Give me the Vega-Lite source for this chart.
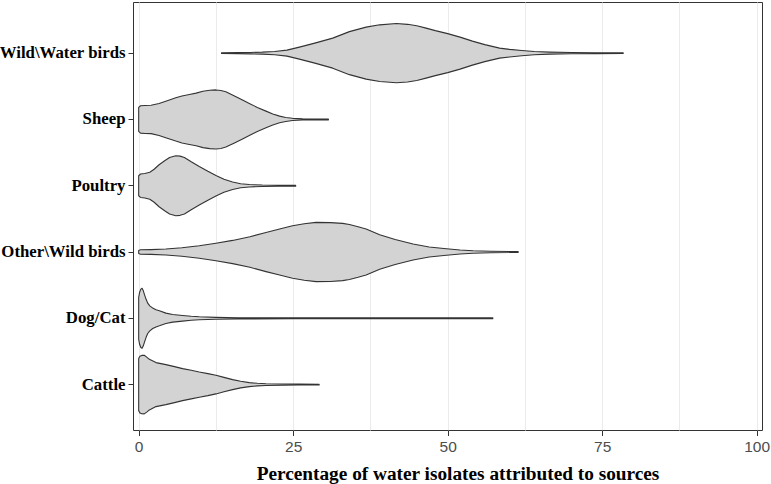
{
  "$schema": "https://vega.github.io/schema/vega-lite/v6.json",
  "width": 629,
  "height": 428,
  "autosize": "none",
  "padding": {"left": 133, "top": 2, "right": 9, "bottom": 54},
  "background": "white",
  "config": {"view": {"stroke": "#333333", "strokeWidth": 1}},
  "data": {"values": [
    {"s":"Wild\\Water birds","v":13.4,"w":0.4},{"s":"Wild\\Water birds","v":16,"w":0.5},{"s":"Wild\\Water birds","v":18,"w":0.7},{"s":"Wild\\Water birds","v":20,"w":1},{"s":"Wild\\Water birds","v":22,"w":1.6},{"s":"Wild\\Water birds","v":24,"w":3},{"s":"Wild\\Water birds","v":26,"w":6},{"s":"Wild\\Water birds","v":28.5,"w":10},{"s":"Wild\\Water birds","v":31.4,"w":15},{"s":"Wild\\Water birds","v":34.1,"w":21.5},{"s":"Wild\\Water birds","v":36.8,"w":26},{"s":"Wild\\Water birds","v":39,"w":28.3},{"s":"Wild\\Water birds","v":41.7,"w":29.6},{"s":"Wild\\Water birds","v":43.5,"w":28.8},{"s":"Wild\\Water birds","v":45,"w":27.3},{"s":"Wild\\Water birds","v":46.5,"w":25},{"s":"Wild\\Water birds","v":48,"w":22.5},{"s":"Wild\\Water birds","v":50,"w":19.5},{"s":"Wild\\Water birds","v":52,"w":16},{"s":"Wild\\Water birds","v":54,"w":12},{"s":"Wild\\Water birds","v":56,"w":8.5},{"s":"Wild\\Water birds","v":58.4,"w":5},{"s":"Wild\\Water birds","v":60,"w":3.8},{"s":"Wild\\Water birds","v":62,"w":2.6},{"s":"Wild\\Water birds","v":64,"w":1.6},{"s":"Wild\\Water birds","v":66.5,"w":1},{"s":"Wild\\Water birds","v":70,"w":0.6},{"s":"Wild\\Water birds","v":74,"w":0.45},{"s":"Wild\\Water birds","v":78.4,"w":0.4},
    {"s":"Wild\\Water birds","v":78.4,"w":-0.4},{"s":"Wild\\Water birds","v":74,"w":-0.45},{"s":"Wild\\Water birds","v":70,"w":-0.6},{"s":"Wild\\Water birds","v":66.5,"w":-1},{"s":"Wild\\Water birds","v":64,"w":-1.6},{"s":"Wild\\Water birds","v":62,"w":-2.6},{"s":"Wild\\Water birds","v":60,"w":-3.8},{"s":"Wild\\Water birds","v":58.4,"w":-5},{"s":"Wild\\Water birds","v":56,"w":-8.5},{"s":"Wild\\Water birds","v":54,"w":-12},{"s":"Wild\\Water birds","v":52,"w":-16},{"s":"Wild\\Water birds","v":50,"w":-19.5},{"s":"Wild\\Water birds","v":48,"w":-22.5},{"s":"Wild\\Water birds","v":46.5,"w":-25},{"s":"Wild\\Water birds","v":45,"w":-27.3},{"s":"Wild\\Water birds","v":43.5,"w":-28.8},{"s":"Wild\\Water birds","v":41.7,"w":-29.6},{"s":"Wild\\Water birds","v":39,"w":-28.3},{"s":"Wild\\Water birds","v":36.8,"w":-26},{"s":"Wild\\Water birds","v":34.1,"w":-21.5},{"s":"Wild\\Water birds","v":31.4,"w":-15},{"s":"Wild\\Water birds","v":28.5,"w":-10},{"s":"Wild\\Water birds","v":26,"w":-6},{"s":"Wild\\Water birds","v":24,"w":-3},{"s":"Wild\\Water birds","v":22,"w":-1.6},{"s":"Wild\\Water birds","v":20,"w":-1},{"s":"Wild\\Water birds","v":18,"w":-0.7},{"s":"Wild\\Water birds","v":16,"w":-0.5},{"s":"Wild\\Water birds","v":13.4,"w":-0.4},

    {"s":"Sheep","v":0,"w":12},{"s":"Sheep","v":0.3,"w":13.7},{"s":"Sheep","v":1,"w":14},{"s":"Sheep","v":2,"w":14.2},{"s":"Sheep","v":3.3,"w":16},{"s":"Sheep","v":4.5,"w":18.5},{"s":"Sheep","v":6,"w":21.6},{"s":"Sheep","v":7,"w":23.5},{"s":"Sheep","v":8.2,"w":25},{"s":"Sheep","v":9.3,"w":26.3},{"s":"Sheep","v":10.4,"w":28.2},{"s":"Sheep","v":11.5,"w":29.2},{"s":"Sheep","v":12.5,"w":29.5},{"s":"Sheep","v":13.3,"w":29},{"s":"Sheep","v":14.1,"w":27.6},{"s":"Sheep","v":15.5,"w":23.5},{"s":"Sheep","v":16.8,"w":19.5},{"s":"Sheep","v":17.9,"w":16},{"s":"Sheep","v":19.2,"w":12},{"s":"Sheep","v":20.6,"w":8.3},{"s":"Sheep","v":21.7,"w":5.5},{"s":"Sheep","v":22.8,"w":3.3},{"s":"Sheep","v":23.8,"w":2},{"s":"Sheep","v":24.9,"w":1.1},{"s":"Sheep","v":26.5,"w":0.6},{"s":"Sheep","v":28.5,"w":0.45},{"s":"Sheep","v":30.7,"w":0.4},
    {"s":"Sheep","v":30.7,"w":-0.4},{"s":"Sheep","v":28.5,"w":-0.45},{"s":"Sheep","v":26.5,"w":-0.6},{"s":"Sheep","v":24.9,"w":-1.1},{"s":"Sheep","v":23.8,"w":-2},{"s":"Sheep","v":22.8,"w":-3.3},{"s":"Sheep","v":21.7,"w":-5.5},{"s":"Sheep","v":20.6,"w":-8.3},{"s":"Sheep","v":19.2,"w":-12},{"s":"Sheep","v":17.9,"w":-16},{"s":"Sheep","v":16.8,"w":-19.5},{"s":"Sheep","v":15.5,"w":-23.5},{"s":"Sheep","v":14.1,"w":-27.6},{"s":"Sheep","v":13.3,"w":-29},{"s":"Sheep","v":12.5,"w":-29.5},{"s":"Sheep","v":11.5,"w":-29.2},{"s":"Sheep","v":10.4,"w":-28.2},{"s":"Sheep","v":9.3,"w":-26.3},{"s":"Sheep","v":8.2,"w":-25},{"s":"Sheep","v":7,"w":-23.5},{"s":"Sheep","v":6,"w":-21.6},{"s":"Sheep","v":4.5,"w":-18.5},{"s":"Sheep","v":3.3,"w":-16},{"s":"Sheep","v":2,"w":-14.2},{"s":"Sheep","v":1,"w":-14},{"s":"Sheep","v":0.3,"w":-13.7},{"s":"Sheep","v":0,"w":-12},

    {"s":"Poultry","v":0,"w":10},{"s":"Poultry","v":0.3,"w":11.7},{"s":"Poultry","v":1,"w":12.3},{"s":"Poultry","v":1.8,"w":13.5},{"s":"Poultry","v":2.5,"w":16.5},{"s":"Poultry","v":3.3,"w":21},{"s":"Poultry","v":4.2,"w":25},{"s":"Poultry","v":5,"w":28.3},{"s":"Poultry","v":6,"w":30},{"s":"Poultry","v":6.7,"w":29.6},{"s":"Poultry","v":7.4,"w":28.3},{"s":"Poultry","v":8.5,"w":24},{"s":"Poultry","v":9.8,"w":19.3},{"s":"Poultry","v":11.2,"w":14.5},{"s":"Poultry","v":12.5,"w":10.3},{"s":"Poultry","v":13.8,"w":6.5},{"s":"Poultry","v":15.2,"w":3.7},{"s":"Poultry","v":16.5,"w":2},{"s":"Poultry","v":17.9,"w":1.2},{"s":"Poultry","v":20,"w":0.7},{"s":"Poultry","v":22.5,"w":0.5},{"s":"Poultry","v":25.4,"w":0.4},
    {"s":"Poultry","v":25.4,"w":-0.4},{"s":"Poultry","v":22.5,"w":-0.5},{"s":"Poultry","v":20,"w":-0.7},{"s":"Poultry","v":17.9,"w":-1.2},{"s":"Poultry","v":16.5,"w":-2},{"s":"Poultry","v":15.2,"w":-3.7},{"s":"Poultry","v":13.8,"w":-6.5},{"s":"Poultry","v":12.5,"w":-10.3},{"s":"Poultry","v":11.2,"w":-14.5},{"s":"Poultry","v":9.8,"w":-19.3},{"s":"Poultry","v":8.5,"w":-24},{"s":"Poultry","v":7.4,"w":-28.3},{"s":"Poultry","v":6.7,"w":-29.6},{"s":"Poultry","v":6,"w":-30},{"s":"Poultry","v":5,"w":-28.3},{"s":"Poultry","v":4.2,"w":-25},{"s":"Poultry","v":3.3,"w":-21},{"s":"Poultry","v":2.5,"w":-16.5},{"s":"Poultry","v":1.8,"w":-13.5},{"s":"Poultry","v":1,"w":-12.3},{"s":"Poultry","v":0.3,"w":-11.7},{"s":"Poultry","v":0,"w":-10},

    {"s":"Other\\Wild birds","v":0,"w":1.5},{"s":"Other\\Wild birds","v":0.3,"w":2.2},{"s":"Other\\Wild birds","v":2,"w":2.4},{"s":"Other\\Wild birds","v":4.4,"w":3},{"s":"Other\\Wild birds","v":7,"w":4.3},{"s":"Other\\Wild birds","v":9.8,"w":6.3},{"s":"Other\\Wild birds","v":12.5,"w":8.8},{"s":"Other\\Wild birds","v":15.2,"w":11.6},{"s":"Other\\Wild birds","v":18,"w":15.3},{"s":"Other\\Wild birds","v":20.6,"w":19.6},{"s":"Other\\Wild birds","v":22.8,"w":23},{"s":"Other\\Wild birds","v":24.9,"w":26.3},{"s":"Other\\Wild birds","v":26.8,"w":28.3},{"s":"Other\\Wild birds","v":28.7,"w":29.6},{"s":"Other\\Wild birds","v":31,"w":29.4},{"s":"Other\\Wild birds","v":33,"w":28.6},{"s":"Other\\Wild birds","v":34.1,"w":27.5},{"s":"Other\\Wild birds","v":35.5,"w":25.3},{"s":"Other\\Wild birds","v":36.8,"w":23},{"s":"Other\\Wild birds","v":39,"w":17.3},{"s":"Other\\Wild birds","v":41.5,"w":12.5},{"s":"Other\\Wild birds","v":44.4,"w":8},{"s":"Other\\Wild birds","v":47,"w":5},{"s":"Other\\Wild birds","v":49.8,"w":3.3},{"s":"Other\\Wild birds","v":52,"w":2},{"s":"Other\\Wild birds","v":54.1,"w":1.2},{"s":"Other\\Wild birds","v":57,"w":0.7},{"s":"Other\\Wild birds","v":61.4,"w":0.4},
    {"s":"Other\\Wild birds","v":61.4,"w":-0.4},{"s":"Other\\Wild birds","v":57,"w":-0.7},{"s":"Other\\Wild birds","v":54.1,"w":-1.2},{"s":"Other\\Wild birds","v":52,"w":-2},{"s":"Other\\Wild birds","v":49.8,"w":-3.3},{"s":"Other\\Wild birds","v":47,"w":-5},{"s":"Other\\Wild birds","v":44.4,"w":-8},{"s":"Other\\Wild birds","v":41.5,"w":-12.5},{"s":"Other\\Wild birds","v":39,"w":-17.3},{"s":"Other\\Wild birds","v":36.8,"w":-23},{"s":"Other\\Wild birds","v":35.5,"w":-25.3},{"s":"Other\\Wild birds","v":34.1,"w":-27.5},{"s":"Other\\Wild birds","v":33,"w":-28.6},{"s":"Other\\Wild birds","v":31,"w":-29.4},{"s":"Other\\Wild birds","v":28.7,"w":-29.6},{"s":"Other\\Wild birds","v":26.8,"w":-28.3},{"s":"Other\\Wild birds","v":24.9,"w":-26.3},{"s":"Other\\Wild birds","v":22.8,"w":-23},{"s":"Other\\Wild birds","v":20.6,"w":-19.6},{"s":"Other\\Wild birds","v":18,"w":-15.3},{"s":"Other\\Wild birds","v":15.2,"w":-11.6},{"s":"Other\\Wild birds","v":12.5,"w":-8.8},{"s":"Other\\Wild birds","v":9.8,"w":-6.3},{"s":"Other\\Wild birds","v":7,"w":-4.3},{"s":"Other\\Wild birds","v":4.4,"w":-3},{"s":"Other\\Wild birds","v":2,"w":-2.4},{"s":"Other\\Wild birds","v":0.3,"w":-2.2},{"s":"Other\\Wild birds","v":0,"w":-1.5},

    {"s":"Dog/Cat","v":0,"w":21},{"s":"Dog/Cat","v":0.15,"w":26},{"s":"Dog/Cat","v":0.35,"w":29.2},{"s":"Dog/Cat","v":0.55,"w":30},{"s":"Dog/Cat","v":0.75,"w":27.5},{"s":"Dog/Cat","v":0.95,"w":23.5},{"s":"Dog/Cat","v":1.2,"w":19},{"s":"Dog/Cat","v":1.46,"w":15.2},{"s":"Dog/Cat","v":1.8,"w":12.5},{"s":"Dog/Cat","v":2.27,"w":10.2},{"s":"Dog/Cat","v":2.8,"w":8.6},{"s":"Dog/Cat","v":3.35,"w":7.5},{"s":"Dog/Cat","v":4.4,"w":5.2},{"s":"Dog/Cat","v":5.5,"w":3.8},{"s":"Dog/Cat","v":7.1,"w":2.8},{"s":"Dog/Cat","v":8.5,"w":2},{"s":"Dog/Cat","v":9.8,"w":1.5},{"s":"Dog/Cat","v":12.5,"w":0.9},{"s":"Dog/Cat","v":16,"w":0.6},{"s":"Dog/Cat","v":25,"w":0.45},{"s":"Dog/Cat","v":40,"w":0.4},{"s":"Dog/Cat","v":57.3,"w":0.4},
    {"s":"Dog/Cat","v":57.3,"w":-0.4},{"s":"Dog/Cat","v":40,"w":-0.4},{"s":"Dog/Cat","v":25,"w":-0.45},{"s":"Dog/Cat","v":16,"w":-0.6},{"s":"Dog/Cat","v":12.5,"w":-0.9},{"s":"Dog/Cat","v":9.8,"w":-1.5},{"s":"Dog/Cat","v":8.5,"w":-2},{"s":"Dog/Cat","v":7.1,"w":-2.8},{"s":"Dog/Cat","v":5.5,"w":-3.8},{"s":"Dog/Cat","v":4.4,"w":-5.2},{"s":"Dog/Cat","v":3.35,"w":-7.5},{"s":"Dog/Cat","v":2.8,"w":-8.6},{"s":"Dog/Cat","v":2.27,"w":-10.2},{"s":"Dog/Cat","v":1.8,"w":-12.5},{"s":"Dog/Cat","v":1.46,"w":-15.2},{"s":"Dog/Cat","v":1.2,"w":-19},{"s":"Dog/Cat","v":0.95,"w":-23.5},{"s":"Dog/Cat","v":0.75,"w":-27.5},{"s":"Dog/Cat","v":0.55,"w":-30},{"s":"Dog/Cat","v":0.35,"w":-29.2},{"s":"Dog/Cat","v":0.15,"w":-26},{"s":"Dog/Cat","v":0,"w":-21},

    {"s":"Cattle","v":0,"w":26},{"s":"Cattle","v":0.2,"w":28.3},{"s":"Cattle","v":0.5,"w":29.2},{"s":"Cattle","v":0.9,"w":29.3},{"s":"Cattle","v":1.3,"w":27.5},{"s":"Cattle","v":1.73,"w":25.3},{"s":"Cattle","v":2.8,"w":22},{"s":"Cattle","v":4.4,"w":20},{"s":"Cattle","v":5.8,"w":18},{"s":"Cattle","v":7.1,"w":16},{"s":"Cattle","v":8.5,"w":14.3},{"s":"Cattle","v":9.8,"w":12.6},{"s":"Cattle","v":11.2,"w":11},{"s":"Cattle","v":12.5,"w":9.3},{"s":"Cattle","v":13.8,"w":7.2},{"s":"Cattle","v":15.2,"w":5},{"s":"Cattle","v":16.5,"w":3.3},{"s":"Cattle","v":17.9,"w":2},{"s":"Cattle","v":19.2,"w":1.3},{"s":"Cattle","v":20.6,"w":0.9},{"s":"Cattle","v":23.3,"w":0.6},{"s":"Cattle","v":26,"w":0.45},{"s":"Cattle","v":29.2,"w":0.4},
    {"s":"Cattle","v":29.2,"w":-0.4},{"s":"Cattle","v":26,"w":-0.45},{"s":"Cattle","v":23.3,"w":-0.6},{"s":"Cattle","v":20.6,"w":-0.9},{"s":"Cattle","v":19.2,"w":-1.3},{"s":"Cattle","v":17.9,"w":-2},{"s":"Cattle","v":16.5,"w":-3.3},{"s":"Cattle","v":15.2,"w":-5},{"s":"Cattle","v":13.8,"w":-7.2},{"s":"Cattle","v":12.5,"w":-9.3},{"s":"Cattle","v":11.2,"w":-11},{"s":"Cattle","v":9.8,"w":-12.6},{"s":"Cattle","v":8.5,"w":-14.3},{"s":"Cattle","v":7.1,"w":-16},{"s":"Cattle","v":5.8,"w":-18},{"s":"Cattle","v":4.4,"w":-20},{"s":"Cattle","v":2.8,"w":-22},{"s":"Cattle","v":1.73,"w":-25.3},{"s":"Cattle","v":1.3,"w":-27.5},{"s":"Cattle","v":0.9,"w":-29.3},{"s":"Cattle","v":0.5,"w":-29.2},{"s":"Cattle","v":0.2,"w":-28.3},{"s":"Cattle","v":0,"w":-26}
  ]},
  "mark": {"type": "line", "interpolate": "linear-closed", "fill": "#d3d3d3", "stroke": "#333333", "strokeWidth": 1.1, "strokeJoin": "round"},
  "encoding": {
    "x": {
      "field": "v", "type": "quantitative",
      "scale": {"domain": [-0.92, 100.86], "nice": false, "zero": false},
      "axis": {
        "values": [0, 12.5, 25, 37.5, 50, 62.5, 75, 87.5, 100],
        "labelExpr": "datum.value % 25 === 0 ? datum.label : ''",
        "tickOpacity": {"condition": {"test": "datum.value % 25 === 0", "value": 1}, "value": 0},
        "labelFont": "Liberation Sans", "labelFontSize": 15.5, "labelColor": "#4d4d4d",
        "tickColor": "#333333", "tickSize": 5.5, "tickWidth": 1, "labelPadding": 4,
        "domain": false, "grid": true, "gridColor": "#ebebeb", "gridWidth": 1,
        "title": "Percentage of water isolates attributed to sources",
        "titleFont": "Liberation Serif", "titleFontWeight": "bold", "titleFontSize": 19.3, "titleColor": "black", "titlePadding": 9.5,
        "titleX": 324.5
      }
    },
    "y": {
      "field": "s", "type": "nominal",
      "sort": ["Wild\\Water birds", "Sheep", "Poultry", "Other\\Wild birds", "Dog/Cat", "Cattle"],
      "scale": {"type": "band", "paddingInner": 0, "paddingOuter": 0.228, "align": 0.595},
      "axis": {
        "title": null, "labelFont": "Liberation Serif", "labelFontWeight": "bold", "labelFontSize": 16.8, "labelColor": "black",
        "tickSize": 5, "tickColor": "#333333", "tickWidth": 1, "labelPadding": 3, "domain": false, "grid": false
      }
    },
    "yOffset": {"field": "w", "type": "quantitative", "scale": {"domain": [-33.14, 33.14]}},
    "detail": {"field": "s"},
    "order": {"value": null}
  }
}
